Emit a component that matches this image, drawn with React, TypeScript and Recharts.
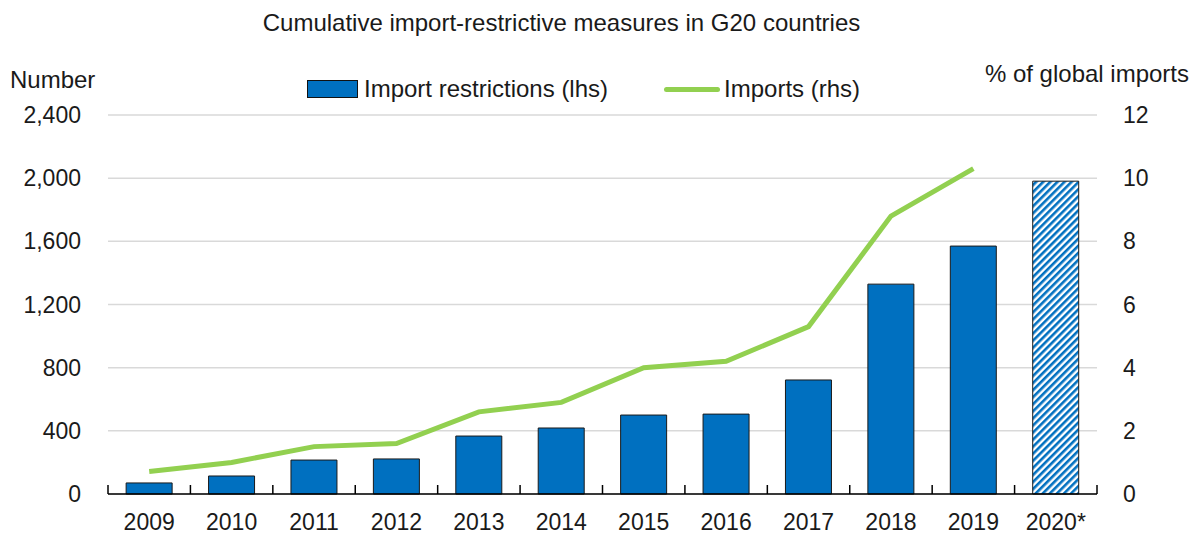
import { ComposedChart, Bar, Line, XAxis, YAxis, CartesianGrid, Cell } from "recharts";

const years = ["2009", "2010", "2011", "2012", "2013", "2014", "2015", "2016", "2017", "2018", "2019", "2020*"];
const restrictions = [70, 114, 215, 222, 367, 418, 500, 506, 722, 1329, 1570, 1981];
const imports: (number | null)[] = [0.71, 1.0, 1.5, 1.6, 2.6, 2.9, 4.0, 4.2, 5.3, 8.8, 10.3, null];
const leftTicks = [0, 400, 800, 1200, 1600, 2000, 2400];
const rightTicks = [0, 2, 4, 6, 8, 10, 12];

const data = years.map((year, i) => ({ year, restrictions: restrictions[i], imports: imports[i] }));

const W = 1199;
const H = 543;
const PLOT_LEFT = 108;
const PLOT_RIGHT = 1097;
const BAND = (PLOT_RIGHT - PLOT_LEFT) / years.length;
const FONT = "'Liberation Sans', Arial, sans-serif";
const TEXT = "#1a1a1a";

const fmt = (v: number) => v.toLocaleString("en-US");

function XTick(props: any) {
  const { x, y, payload, index } = props;
  return (
    <g>
      <line x1={x - BAND / 2} x2={x - BAND / 2} y1={y} y2={y - 9} stroke="#000" strokeWidth={1.5} />
      {index === years.length - 1 && (
        <line x1={x + BAND / 2} x2={x + BAND / 2} y1={y} y2={y - 9} stroke="#000" strokeWidth={1.5} />
      )}
      <text x={x} y={y + 36} textAnchor="middle" fontSize={23} fontFamily={FONT} fill={TEXT}>
        {payload.value}
      </text>
    </g>
  );
}

export default function App() {
  return (
    <div style={{ position: "absolute", left: 0, top: 0, width: W, height: H, background: "#fff", fontFamily: FONT, color: TEXT }}>
      <div style={{ position: "absolute", left: 0, width: W - 76, top: 9, textAlign: "center", fontSize: 24 }}>
        Cumulative import-restrictive measures in G20 countries
      </div>
      <div style={{ position: "absolute", left: 10, top: 66, fontSize: 24 }}>Number</div>
      <div style={{ position: "absolute", right: 10, top: 60, fontSize: 24 }}>% of global imports</div>
      <div style={{ position: "absolute", left: 307, top: 75, fontSize: 24, display: "flex", alignItems: "center" }}>
        <span style={{ display: "inline-block", width: 49, height: 16, background: "#0070C0", border: "1px solid #111", marginRight: 6 }} />
        Import restrictions (lhs)
        <span style={{ display: "inline-block", width: 56, height: 5, borderRadius: 3, background: "#92D050", marginLeft: 56, marginRight: 4 }} />
        Imports (rhs)
      </div>
      <ComposedChart
        width={W}
        height={H}
        data={data}
        margin={{ top: 115, right: 0, bottom: 0, left: 0 }}
        barCategoryGap="22%"
      >
        <defs>
          <pattern id="stripes" width="5" height="5" patternUnits="userSpaceOnUse" patternTransform="rotate(45)">
            <rect width="5" height="5" fill="#fff" />
            <rect width="2.6" height="5" fill="#0070C0" />
          </pattern>
        </defs>
        <CartesianGrid vertical={false} stroke="#d9d9d9" strokeWidth={1.5} yAxisId="left" />
        <XAxis
          dataKey="year"
          height={49}
          tickLine={false}
          tickSize={0}
          tickMargin={0}
          axisLine={{ stroke: "#000", strokeWidth: 1.5 }}
          tick={<XTick />}
          interval={0}
        />
        <YAxis
          yAxisId="left"
          width={PLOT_LEFT}
          domain={[0, 2400]}
          ticks={leftTicks}
          tickFormatter={fmt}
          axisLine={false}
          tickLine={false}
          tickSize={0}
          tickMargin={27}
          tick={{ fontSize: 23, fill: TEXT, fontFamily: FONT }}
        />
        <YAxis
          yAxisId="right"
          orientation="right"
          width={W - PLOT_RIGHT}
          domain={[0, 12]}
          ticks={rightTicks}
          axisLine={false}
          tickLine={false}
          tickSize={0}
          tickMargin={26}
          tick={{ fontSize: 23, fill: TEXT, fontFamily: FONT, textAnchor: "start" }}
        />
        <Bar yAxisId="left" dataKey="restrictions" stroke="#1a1a1a" strokeWidth={1} isAnimationActive={false}>
          {data.map((d, i) => (
            <Cell key={d.year} fill={i === years.length - 1 ? "url(#stripes)" : "#0070C0"} />
          ))}
        </Bar>
        <Line
          yAxisId="right"
          dataKey="imports"
          type="linear"
          stroke="#92D050"
          strokeWidth={5}
          dot={false}
          activeDot={false}
          connectNulls={false}
          isAnimationActive={false}
        />
      </ComposedChart>
    </div>
  );
}
